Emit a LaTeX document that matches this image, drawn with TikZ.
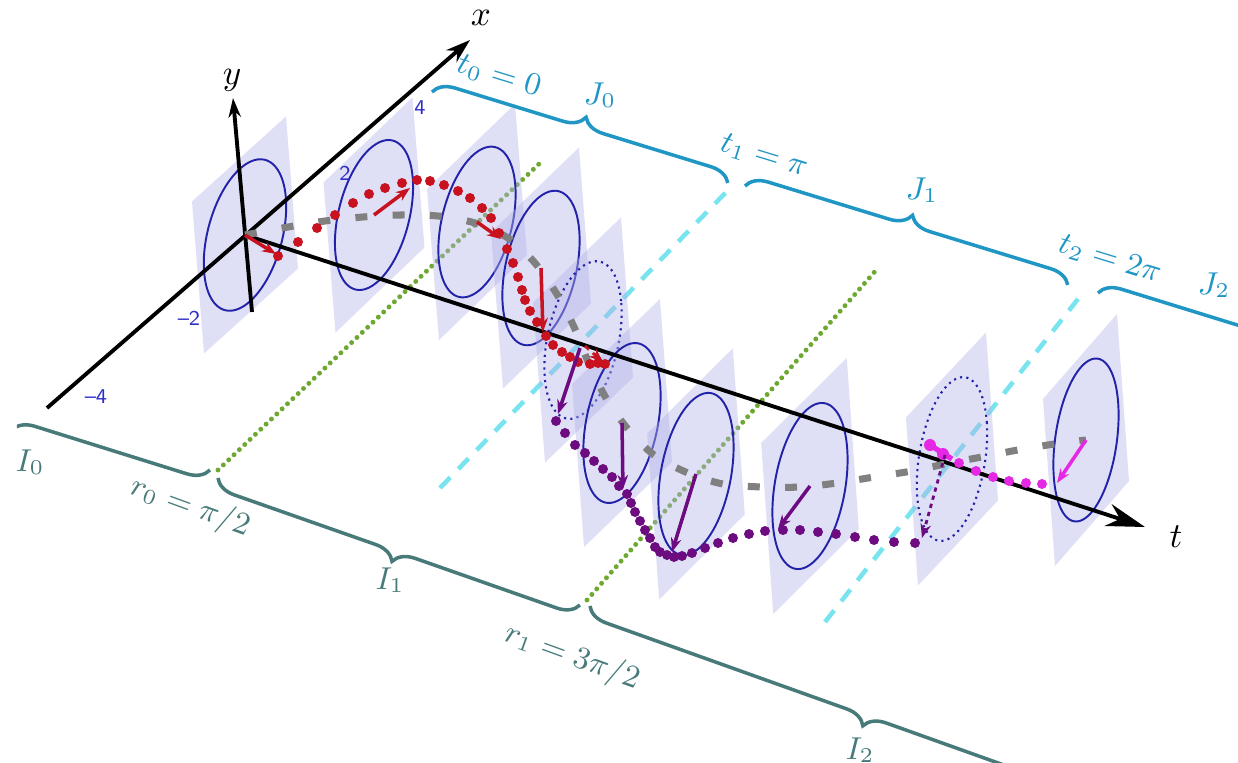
\documentclass[tikz,border=0pt]{standalone}
\usepackage{amsmath}
\usetikzlibrary{arrows.meta,decorations.pathreplacing}

\definecolor{ellblue}{RGB}{35,35,170}
\definecolor{planecol}{RGB}{178,178,232}
\definecolor{curvered}{RGB}{200,18,32}
\definecolor{curvepurple}{RGB}{108,12,128}
\definecolor{curvemag}{RGB}{228,40,228}
\definecolor{topbrace}{RGB}{32,150,196}
\definecolor{botbrace}{RGB}{72,122,122}
\definecolor{markgreen}{RGB}{110,168,48}
\definecolor{markcyan}{RGB}{120,228,240}
\definecolor{centergray}{RGB}{128,128,128}
\definecolor{tickblue}{RGB}{45,45,200}

\begin{document}
\begin{tikzpicture}[x=0.01cm,y=-0.01cm,
  axisline/.style={line width=1.1pt},
  plane/.style={fill=planecol,fill opacity=0.42},
  ellsolid/.style={draw=ellblue,line width=0.55pt},
  elldot/.style={draw=ellblue,line width=0.6pt,dash pattern=on 0.6pt off 1.2pt},
  topbr/.style={draw=topbrace,line width=1pt,decorate,decoration={brace,amplitude=6pt}},
  botbr/.style={draw=botbrace,line width=1pt,decorate,decoration={brace,amplitude=6pt,mirror}},
  toplab/.style={text=topbrace,font=\fontsize{9}{10}\selectfont},
  botlab/.style={text=botbrace,font=\fontsize{9}{10}\selectfont},
  ticklab/.style={text=tickblue,font=\sffamily\fontsize{6}{7}\selectfont},
  greenline/.style={draw=markgreen,line width=1.4pt,line cap=round,dash pattern=on 0pt off 2.1pt},
  cyanline/.style={draw=markcyan,line width=1.3pt,dash pattern=on 4.2pt off 3.3pt},
  centerpath/.style={draw=centergray,line width=2pt,dash pattern=on 3.4pt off 7.2pt},
  vec/.style={line width=1pt,-{Stealth[length=4pt,width=3pt]}}]
  \useasboundingbox (0,0) rectangle (1238,763);
  \clip (0,0) rectangle (1238,763);

  % marks r_k (green) and t_k (cyan)
  \coordinate (g1a) at (218,470); \coordinate (g1b) at (541,162);
  \coordinate (g2a) at (587,600); \coordinate (g2b) at (878,268);
  \coordinate (k1a) at (440,488); \coordinate (k1b) at (733,185);
  \coordinate (k2a) at (825,622); \coordinate (k2b) at (1085,290);
  \draw[greenline] (g1a) -- (g1b);
  \draw[greenline] (g2a) -- (g2b);
  \draw[cyanline] (k1a) -- (k1b);
  \draw[cyanline] (k2a) -- (k2b);

  % planes with their circles
  \foreach \i/\cx/\cy/\a/\b/\st in {1/245/235/47/76/ellsolid,2/374/215/44.5/75/ellsolid,
      3/477/222/44/75.5/ellsolid,4/541/268/44/78/ellsolid,5/583/340/44/80/elldot,
      6/622/423/44/81.5/ellsolid,7/696/474/42.8/83/ellsolid,8/810/486/42.8/85.5/ellsolid,
      9/952/459/40/84/elldot,10/1086/440/37/83.5/ellsolid}{
    \coordinate (c\i) at (\cx,\cy);
    \begin{scope}[shift={(c\i)},x={({\a*0.01cm},0.425cm)},y={(0.06cm,{-\b*0.01cm})}]
      \fill[plane] (-1,-1) -- (1,-1) -- (1,1) -- (-1,1) -- cycle;
      \draw[\st] plot[domain=0:360,samples=73,smooth] ({0.87*cos(\x)},{0.87*sin(\x)}) -- cycle;
    \end{scope}
  }

  % braces
  \draw[topbr] (432,92) -- (728,183);
  \draw[topbr] (745,186) -- (1068,285);
  \draw[topbr] (1098,293) -- (1412,390);
  \begin{scope}
    \clip (17,0) rectangle (1238,763);
    \draw[botbr] (-174,350) -- (210,470);
  \end{scope}
  \draw[botbr] (218,478) -- (580,605);
  \draw[botbr] (590,606) -- (1150,806);

  \node[toplab,rotate=-17] (t0lab) at (499,76) {$t_0 = 0$};
  \node[toplab] (J0lab) at (600,95) {$J_0$};
  \node[toplab,rotate=-17] (t1lab) at (764,156) {$t_1 = \pi$};
  \node[toplab] (J1lab) at (922,190) {$J_1$};
  \node[toplab,rotate=-17] (t2lab) at (1110,259) {$t_2 = 2\pi$};
  \node[toplab] (J2lab) at (1214,285) {$J_2$};
  \node[botlab] (I0lab) at (30,462) {$I_0$};
  \node[botlab,rotate=-20] (r0lab) at (190,507) {$r_0 = \pi/2$};
  \node[botlab] (I1lab) at (390,580) {$I_1$};
  \node[botlab,rotate=-20] (r1lab) at (572,657) {$r_1 = 3\pi/2$};
  \node[botlab] (I2lab) at (860,750) {$I_2$};

  % axes
  \coordinate (O) at (245,235);
  \coordinate (xneg) at (47,408); \coordinate (xpos) at (470,40);
  \coordinate (yneg) at (252,312); \coordinate (ypos) at (233,98);
  \coordinate (tpos) at (1145,527);
  \draw[axisline,-{Stealth[length=7pt,width=4.5pt]}] (xneg) -- (xpos);
  \draw[axisline,-{Stealth[length=5.5pt,width=3.5pt]}] (yneg) -- (ypos);
  \draw[axisline,-{Stealth[length=11pt,width=6.5pt]}] (O) -- (tpos);
  \node (xlab) at (481,18) {$x$};
  \node (ylab) at (232,80) {$y$};
  \node (tlab) at (1176,537) {$t$};
  \node[ticklab] (tk4) at (420,108) {4};
  \node[ticklab] (tk2) at (345,173) {2};
  \node[ticklab] (tkm2) at (189,318) {--2};
  \node[ticklab] (tkm4) at (96,397) {--4};

  % path of the centres
  \draw[centerpath] plot[smooth] coordinates {(245,235) (288,227) (325,221) (363,217) (400,215)
    (438,216) (475,223) (508,238) (535,263) (558,296) (575,329) (589,364) (606,398) (627,428)
    (654,455) (688,473) (723,484) (762,487) (800,487) (837,483) (874,477) (912,471) (950,463)
    (987,456) (1023,449) (1061,443) (1086,440)};

  % sampled solution
  \foreach \p in {(278,256),(298,242),(317,228),(335,215),(353,203),(369,194),(385,188),
      (402,183),(417,180),(430,181),(444,185),(458,191),(470,198),(482,208),(491,218),
      (499,233),(507,249),(513,263),(518,277),(522,290),(525,300),(530,311),(537,322),
      (546,336),(553,345),(562,352),(570,357),(578,362),(590,364),(598,363),(605,364)}
    \fill[curvered] \p circle (5);
  \foreach \p in {(556,421),(565,433),(575,445),(585,453),(594,461),(603,469),(612,477),
      (619,486),(627,494),(631,503),(635,512),(640,521),(645,530),(650,538),(655,547),
      (660,552),(667,555),(674,557),(682,556),(692,553),(705,548),(718,543),(733,538),
      (749,534),(765,531),(783,530),(800,530),(818,532),(836,534),(855,537),(874,540),
      (894,542),(915,543)}
    \fill[curvepurple] \p circle (5);
  \draw[curvemag,line width=1.5pt] (c9) -- (930,445);
  \fill[curvemag] (930,445) circle (6) (943,454) circle (6);
  \foreach \p in {(959,463),(976,471),(993,477),(1009,481),(1026,483),(1042,484)}
    \fill[curvemag] \p circle (5);

  % vectors in the planes
  \draw[vec,curvered] (c1) -- (276,254);
  \draw[vec,curvered] (c2) -- ++(36,-27);
  \draw[vec,curvered] (c3) -- ++(24,17);
  \draw[vec,curvered] (c4) -- ++(2,64);
  \draw[vec,curvered,line width=0.8pt,dash pattern=on 1.5pt off 1.5pt] (c5) ++(2,6) -- (603,362);
  \draw[vec,curvepurple] (580,348) -- (558,414);
  \draw[vec,curvepurple] (c6) -- ++(1,66);
  \draw[vec,curvepurple] (c7) -- ++(-24,78);
  \draw[vec,curvepurple] (c8) -- ++(-32,43);
  \draw[vec,curvepurple,line width=0.8pt,dash pattern=on 1.2pt off 1.2pt] (945,455) -- (922,538);
  \draw[vec,curvemag] (c10) -- ++(-29,43);
\end{tikzpicture}
\end{document}
